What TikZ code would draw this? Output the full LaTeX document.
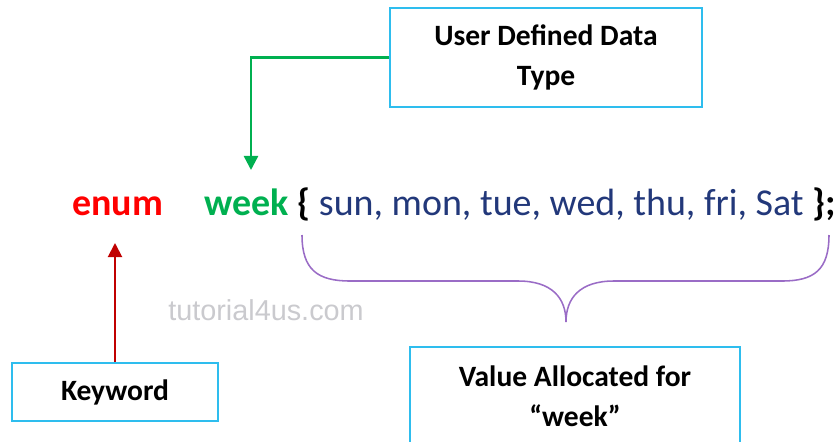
\documentclass[tikz,border=0pt]{standalone}
\usepackage{fontspec}
\setmainfont{Carlito}
\newfontfamily\markfont{Liberation Sans}
\usetikzlibrary{arrows.meta, positioning}

\definecolor{kwred}{HTML}{FF0000}
\definecolor{typegreen}{HTML}{00B050}
\definecolor{valblue}{HTML}{22387A}
\definecolor{boxblue}{HTML}{2EBDEE}
\definecolor{arrowred}{HTML}{C00000}
\definecolor{bracepurple}{HTML}{9A6CC6}
\definecolor{markgray}{HTML}{CACACE}

\tikzset{
    infobox/.style = {draw=boxblue, line width=1.4pt, align=center, inner sep=0pt,
        font=\bfseries\fontsize{21}{28.5}\selectfont},
    codeword/.style = {anchor=base west, inner sep=0pt, font=\fontsize{27}{32}\selectfont},
}

\begin{document}
\begin{tikzpicture}[x=0.025cm, y=-0.025cm]
    \useasboundingbox (0,0) rectangle (838,442);

    %code line
    \node[codeword, text=kwred, font=\bfseries\fontsize{27}{32}\selectfont] (enumkw) at (72,215) {enum};
    \node[codeword, text=typegreen, font=\bfseries\fontsize{27}{32}\selectfont] (weekname) at (204,215) {week};
    \node[codeword] (values) at (297,215) {{\bfseries\{} \textcolor{valblue}{sun, mon, tue, wed, thu, fri, Sat} {\bfseries\};}};

    %boxes
    \node[infobox, minimum width=7.8cm, minimum height=2.475cm] (udtbox) at (546,57.5) {User Defined Data\\Type};
    \node[infobox, minimum width=5.15cm, minimum height=1.45cm] (kwbox) at (115,392) {Keyword};
    \node[infobox, minimum width=8.25cm, minimum height=2.45cm] (valbox) at (575,396) {Value Allocated for\\``week''};

    %watermark
    \node[text=markgray, font=\markfont\fontsize{20.5}{24}\selectfont] (mark) at (266,310) {tutorial4us.com};

    %arrows
    \coordinate (weektip) at (251,170);
    \coordinate (enumtip) at (115,243);
    \draw[typegreen, line width=1.7pt, -{Triangle[width=10pt, length=10pt]}] (udtbox.west) -| (weektip);
    \draw[arrowred, line width=1.4pt, -{Triangle[width=10pt, length=10pt]}] (kwbox.north) -- (enumtip);

    %brace
    \draw[bracepurple, line width=1.1pt] (302,235) .. controls (302,270) and (318,281) .. (350,281)
        -- (518,281) .. controls (552,281) and (566,298) .. (566,322)
        .. controls (566,298) and (580,281) .. (614,281)
        -- (782,281) .. controls (814,281) and (829,270) .. (829,235);
\end{tikzpicture}
\end{document}
